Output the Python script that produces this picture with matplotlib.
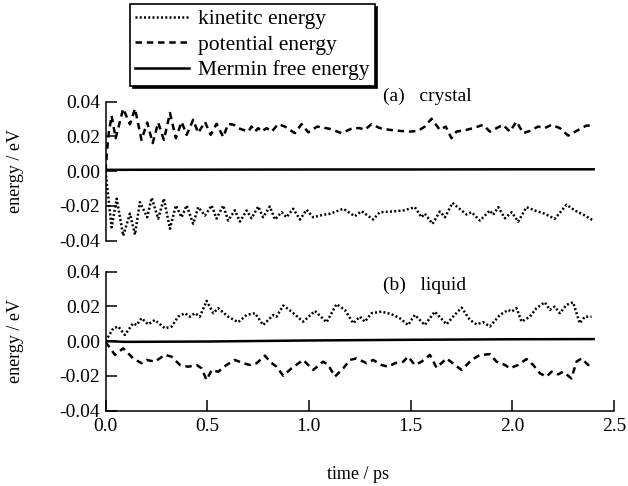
import matplotlib
matplotlib.use("Agg")
import matplotlib.pyplot as plt
from matplotlib.lines import Line2D

plt.rcParams['font.family'] = ['Liberation Serif', 'DejaVu Serif']
plt.rcParams['axes.unicode_minus'] = False

# ---------------- data: (a) crystal ----------------
t_kin_a = [0.000, 0.030, 0.055, 0.087, 0.120, 0.145, 0.169, 0.205, 0.227, 0.259,
           0.287, 0.317, 0.346, 0.374, 0.399, 0.431, 0.456, 0.489, 0.522, 0.546,
           0.579, 0.603, 0.636, 0.661, 0.694, 0.718, 0.751, 0.775, 0.808, 0.833,
           0.866, 0.890, 0.923, 0.956, 0.989, 1.021, 1.070, 1.103, 1.169, 1.226,
           1.259, 1.316, 1.349, 1.407, 1.464, 1.521, 1.554, 1.570, 1.608, 1.644,
           1.669, 1.706, 1.751, 1.775, 1.800, 1.841, 1.890, 1.906, 1.931, 1.964,
           1.997, 2.029, 2.070, 2.111, 2.160, 2.209, 2.267, 2.308, 2.357, 2.398]
e_kin_a = [0.0000, -0.0323, -0.0158, -0.0371, -0.0244, -0.0365, -0.0178, -0.0265, -0.0153, -0.0273,
           -0.0158, -0.0331, -0.0197, -0.0265, -0.0197, -0.0302, -0.0207, -0.0255, -0.0197, -0.0273,
           -0.0197, -0.0284, -0.0225, -0.0290, -0.0226, -0.0271, -0.0203, -0.0265, -0.0203, -0.0278,
           -0.0236, -0.0265, -0.0216, -0.0278, -0.0222, -0.0265, -0.0251, -0.0245, -0.0216, -0.0259,
           -0.0230, -0.0278, -0.0236, -0.0232, -0.0226, -0.0207, -0.0265, -0.0244, -0.0303, -0.0232,
           -0.0265, -0.0182, -0.0226, -0.0249, -0.0236, -0.0284, -0.0226, -0.0251, -0.0207, -0.0271,
           -0.0236, -0.0290, -0.0207, -0.0226, -0.0245, -0.0274, -0.0193, -0.0226, -0.0255, -0.0284]

t_pot_a = [0.000, 0.008, 0.016, 0.030, 0.050, 0.087, 0.120, 0.145, 0.177, 0.205,
           0.232, 0.259, 0.287, 0.317, 0.346, 0.374, 0.399, 0.431, 0.456, 0.489,
           0.517, 0.546, 0.579, 0.603, 0.631, 0.653, 0.702, 0.718, 0.735, 0.751,
           0.767, 0.792, 0.817, 0.849, 0.882, 0.931, 0.964, 0.997, 1.041, 1.103,
           1.161, 1.215, 1.251, 1.275, 1.308, 1.349, 1.398, 1.447, 1.497, 1.537,
           1.570, 1.603, 1.644, 1.673, 1.701, 1.726, 1.775, 1.816, 1.857, 1.890,
           1.923, 1.955, 1.988, 2.021, 2.054, 2.087, 2.127, 2.160, 2.193, 2.234,
           2.275, 2.316, 2.365, 2.398]
e_pot_a = [0.0000, 0.0120, 0.0220, 0.0320, 0.0190, 0.0360, 0.0270, 0.0360, 0.0180, 0.0280,
           0.0162, 0.0280, 0.0180, 0.0335, 0.0190, 0.0284, 0.0209, 0.0296, 0.0220, 0.0284,
           0.0209, 0.0273, 0.0197, 0.0273, 0.0267, 0.0248, 0.0228, 0.0257, 0.0228, 0.0248,
           0.0228, 0.0248, 0.0228, 0.0271, 0.0257, 0.0219, 0.0271, 0.0224, 0.0257, 0.0244,
           0.0219, 0.0248, 0.0248, 0.0238, 0.0271, 0.0248, 0.0238, 0.0232, 0.0228, 0.0232,
           0.0257, 0.0302, 0.0238, 0.0257, 0.0190, 0.0228, 0.0238, 0.0251, 0.0267, 0.0228,
           0.0248, 0.0267, 0.0228, 0.0286, 0.0219, 0.0232, 0.0257, 0.0248, 0.0267, 0.0248,
           0.0205, 0.0232, 0.0263, 0.0261]

t_mer_a = [0.0, 0.5, 1.0, 1.5, 2.0, 2.4]
e_mer_a = [0.0008, 0.0009, 0.0010, 0.0010, 0.0011, 0.0011]

# ---------------- data: (b) liquid ----------------
t_kin_b = [0.000, 0.038, 0.063, 0.095, 0.136, 0.153, 0.177, 0.210, 0.243, 0.292,
           0.325, 0.357, 0.390, 0.415, 0.440, 0.464, 0.497, 0.530, 0.554, 0.603,
           0.652, 0.694, 0.735, 0.775, 0.825, 0.841, 0.874, 0.915, 0.972, 1.030,
           1.087, 1.136, 1.177, 1.218, 1.251, 1.275, 1.308, 1.357, 1.407, 1.447,
           1.488, 1.521, 1.570, 1.619, 1.677, 1.709, 1.751, 1.792, 1.824, 1.857,
           1.890, 1.939, 1.980, 1.997, 2.021, 2.046, 2.087, 2.119, 2.160, 2.185,
           2.209, 2.234, 2.267, 2.299, 2.332, 2.357, 2.390]
e_kin_b = [0.0000, 0.0074, 0.0084, 0.0036, 0.0103, 0.0093, 0.0132, 0.0097, 0.0122, 0.0074,
           0.0084, 0.0141, 0.0161, 0.0141, 0.0161, 0.0141, 0.0232, 0.0161, 0.0190, 0.0141,
           0.0109, 0.0151, 0.0161, 0.0093, 0.0151, 0.0141, 0.0205, 0.0170, 0.0112, 0.0174,
           0.0109, 0.0213, 0.0180, 0.0103, 0.0141, 0.0112, 0.0161, 0.0170, 0.0155, 0.0132,
           0.0093, 0.0151, 0.0093, 0.0170, 0.0097, 0.0141, 0.0193, 0.0122, 0.0097, 0.0109,
           0.0084, 0.0151, 0.0180, 0.0170, 0.0190, 0.0112, 0.0141, 0.0190, 0.0224, 0.0180,
           0.0199, 0.0161, 0.0209, 0.0224, 0.0103, 0.0141, 0.0141]

t_pot_b = [0.000, 0.030, 0.046, 0.087, 0.136, 0.177, 0.202, 0.243, 0.292, 0.325,
           0.366, 0.407, 0.448, 0.472, 0.497, 0.522, 0.554, 0.595, 0.636, 0.677,
           0.710, 0.743, 0.784, 0.808, 0.841, 0.874, 0.915, 0.972, 1.021, 1.070,
           1.095, 1.128, 1.169, 1.202, 1.234, 1.251, 1.284, 1.316, 1.357, 1.390,
           1.423, 1.464, 1.488, 1.521, 1.554, 1.595, 1.628, 1.677, 1.718, 1.751,
           1.800, 1.841, 1.890, 1.923, 1.964, 1.988, 2.029, 2.070, 2.103, 2.136,
           2.168, 2.193, 2.226, 2.250, 2.291, 2.316, 2.341, 2.373, 2.398]
e_pot_b = [-0.0005, -0.0051, -0.0079, -0.0041, -0.0099, -0.0127, -0.0108, -0.0118, -0.0079, -0.0089,
           -0.0137, -0.0147, -0.0137, -0.0156, -0.0223, -0.0166, -0.0176, -0.0137, -0.0108, -0.0127,
           -0.0137, -0.0127, -0.0083, -0.0118, -0.0147, -0.0199, -0.0156, -0.0108, -0.0166, -0.0118,
           -0.0137, -0.0204, -0.0156, -0.0108, -0.0099, -0.0108, -0.0127, -0.0108, -0.0137, -0.0147,
           -0.0127, -0.0118, -0.0089, -0.0137, -0.0118, -0.0079, -0.0153, -0.0099, -0.0137, -0.0166,
           -0.0108, -0.0079, -0.0075, -0.0118, -0.0137, -0.0156, -0.0137, -0.0103, -0.0137, -0.0185,
           -0.0204, -0.0176, -0.0191, -0.0176, -0.0214, -0.0118, -0.0099, -0.0137, -0.0137]

t_mer_b = [0.0, 0.1, 0.5, 1.0, 1.5, 2.0, 2.4]
e_mer_b = [0.0000, -0.0004, -0.0002, 0.0004, 0.0008, 0.0011, 0.0012]

x_ticks = [0.0, 0.5, 1.0, 1.5, 2.0, 2.5]
y_ticks = [-0.04, -0.02, 0.00, 0.02, 0.04]
labels = ['kinetitc energy', 'potential energy', 'Mermin free energy']

# ---------------- figure ----------------
fig = plt.figure(figsize=(6.28, 4.86), dpi=100)
ax1 = fig.add_axes([0.168, 0.5047, 0.8096, 0.286])
ax2 = fig.add_axes([0.168, 0.155, 0.8096, 0.286])

kin_style = dict(color='black', linestyle=(0, (0.8, 0.9)), lw=1.8)
pot_style = dict(color='black', linestyle=(0, (2.6, 1.9)), lw=1.8)
mer_style = dict(color='black', linestyle='-', lw=1.8)

for ax, tk, ek, tp, ep, tm, em in [
        (ax1, t_kin_a, e_kin_a, t_pot_a, e_pot_a, t_mer_a, e_mer_a),
        (ax2, t_kin_b, e_kin_b, t_pot_b, e_pot_b, t_mer_b, e_mer_b)]:
    ax.plot(tk, ek, **kin_style)
    ax.plot(tp, ep, **pot_style)
    ax.plot(tm, em, **mer_style)
    ax.set_xlim(0, 2.5)
    ax.set_ylim(-0.04, 0.04)
    ax.set_yticks(y_ticks)
    ax.set_yticklabels(['%.2f' % v for v in y_ticks])
    ax.spines['top'].set_visible(False)
    ax.spines['right'].set_visible(False)
    ax.spines['left'].set_linewidth(1.1)
    ax.spines['bottom'].set_linewidth(1.1)
    ax.tick_params(direction='in', length=8, width=1.1, labelsize=14, pad=4)
    ax.patch.set_visible(False)

ax1.spines['bottom'].set_visible(False)
ax1.set_xticks([])

ax2.set_xticks(x_ticks)
ax2.set_xticklabels(['%.1f' % v for v in x_ticks])
ax2.tick_params(axis='x', pad=5)
ax2.set_xlabel('time / ps', fontsize=13)
ax2.xaxis.set_label_coords(0.4965, -0.398)

# y labels (one per panel), centred at the panel's middle
fig.text(15 / 628, 1 - 171 / 486, 'energy / eV', rotation=90, ha='center', va='center', fontsize=13)
fig.text(15 / 628, 1 - 341 / 486, 'energy / eV', rotation=90, ha='center', va='center', fontsize=13)

ax1.text(1.364, 0.0433, '(a)   crystal', fontsize=14, va='center', ha='left', clip_on=False)
ax2.text(1.364, 0.0324, '(b)   liquid', fontsize=14, va='center', ha='left')

handles = [Line2D([], [], **kin_style), Line2D([], [], **pot_style), Line2D([], [], **mer_style)]
leg = fig.legend(handles, labels, loc='upper left', bbox_to_anchor=(0.207, 0.992),
                 borderaxespad=0, fontsize=15.5, handlelength=2.5, handletextpad=0.4,
                 labelspacing=0.25, borderpad=0.25, fancybox=False, frameon=True,
                 shadow={'color': 'black', 'alpha': 1.0})
leg.get_frame().set_edgecolor('black')
leg.get_frame().set_linewidth(1.2)

fig.savefig('out.png', dpi=100)
